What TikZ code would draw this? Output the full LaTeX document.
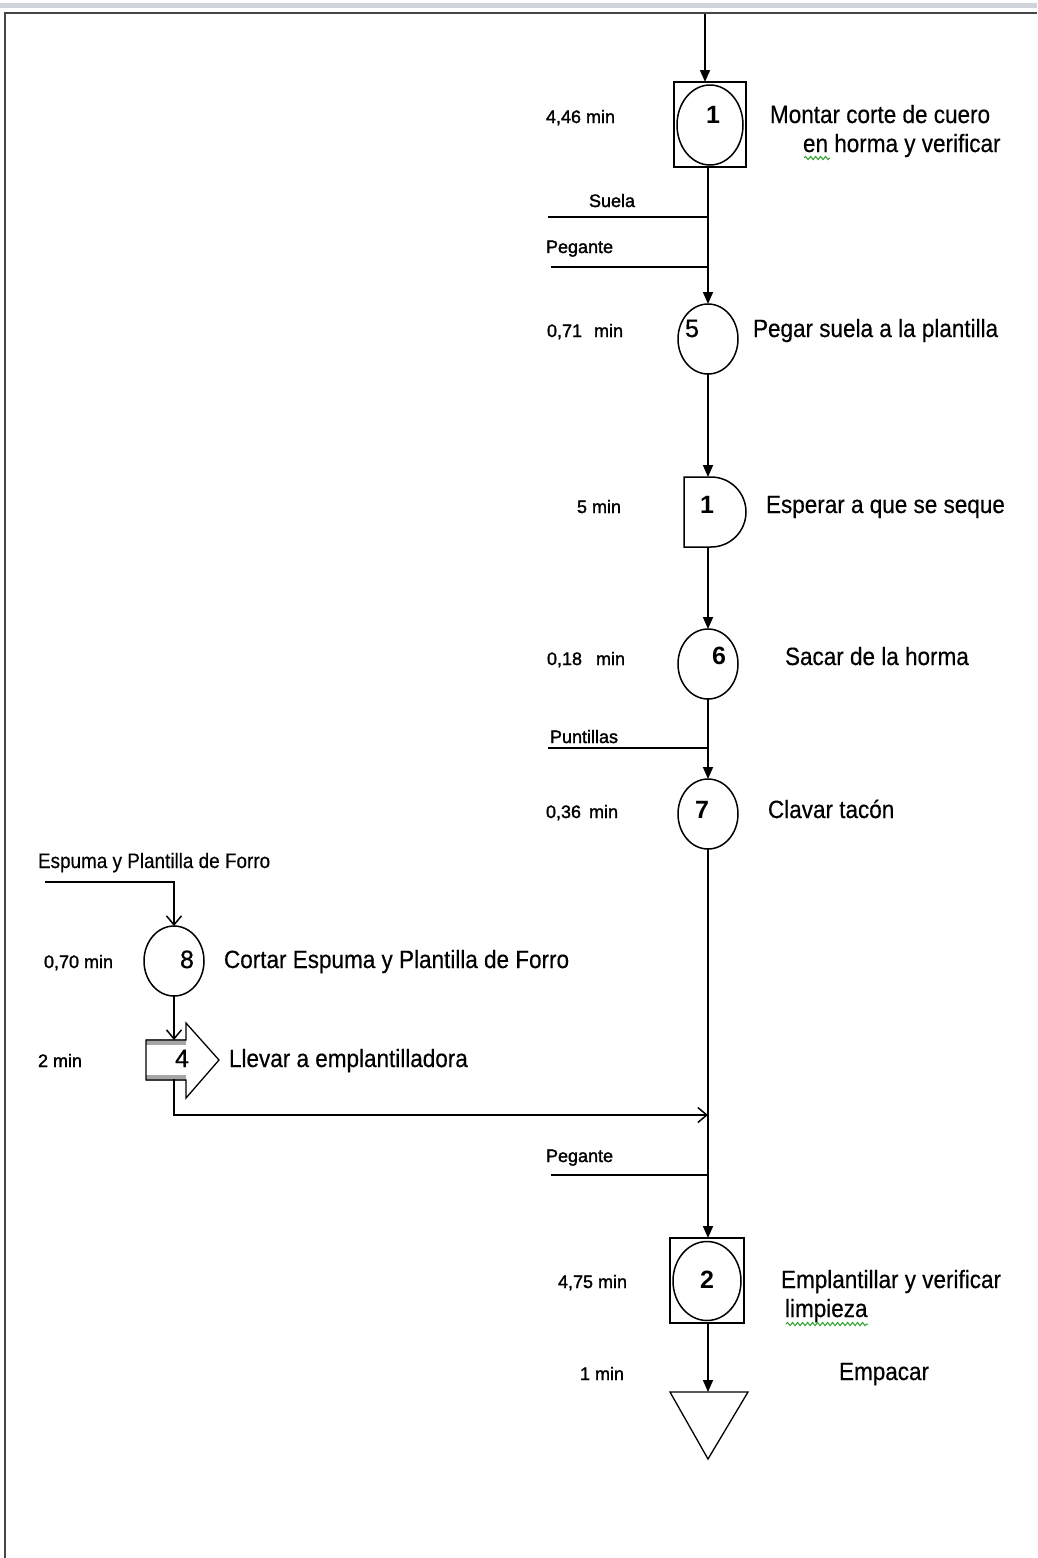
\documentclass[tikz,border=0pt]{standalone}
\usepackage{fontspec}
\setmainfont{Liberation Sans}
\newfontfamily\labfont[FakeStretch=0.9,FakeBold=0.4]{Liberation Sans}
\newfontfamily\smallfont[FakeBold=1.6]{Liberation Sans}
\newfontfamily\numfont[FakeBold=0.8]{Liberation Sans}
\usetikzlibrary{arrows.meta,shapes.geometric,decorations.pathmorphing}
\definecolor{bandgray}{RGB}{208,212,218}
\definecolor{framegray}{RGB}{70,70,70}
\definecolor{spellgreen}{RGB}{40,160,40}
\tikzset{
  every node/.style={inner sep=0pt, outer sep=0pt},
  lab/.style={font=\fontsize{25}{30}\labfont, anchor=base west},
  tm/.style={font=\fontsize{18}{21}\smallfont, anchor=base west},
  numb/.style={font=\fontsize{25}{30}\selectfont\bfseries, anchor=base},
  numr/.style={font=\fontsize{25}{30}\numfont, anchor=base},
  op/.style={ellipse, draw, line width=1.5pt, minimum width=60pt, minimum height=70pt},
  insp/.style={rectangle, draw, line width=1.5pt},
  ln/.style={line width=1.7pt},
  flow/.style={line width=1.7pt, -{Triangle[length=12pt,width=10pt]}},
  openflow/.style={line width=1.7pt, -{Straight Barb[length=9pt,width=15pt,line width=1.5pt]}},
  spell/.style={spellgreen, line width=1pt, decorate, decoration={snake, amplitude=1.6pt, segment length=5pt}},
}
\begin{document}
\begin{tikzpicture}[x=1pt,y=-1pt]
\useasboundingbox (0,0) rectangle (1037,1558);
% window frame
\fill[bandgray] (0,3) rectangle (1037,8);
\draw[framegray, line width=2pt] (4,13) -- (1037,13);
\draw[framegray, line width=1.6pt] (5,13) -- (5,1558);

% ---------- main column ----------
\coordinate (top) at (705,14);
\node[insp, minimum width=72pt, minimum height=85pt] (b1) at (710,124.5) {};
\node[op, minimum width=66pt, minimum height=80pt] (o1) at (710,125) {};
\node[numb] (n1) at (713,123) {1};
\node[tm] (t1) at (546,123) {4,46 min};
\node[lab] (l1a) at (770,123) {Montar corte de cuero};
\node[lab] (l1b) at (803,152) {en horma y verificar};
\draw[spell] (804,158) -- (830,158);
\draw[flow] (top) -- (top |- b1.north);

\node[op] (o5) at (708,339) {};
\node[numr] (n5) at (692,337) {5};
\node[tm] (t5) at (547,337) {0,71\hspace{12pt}min};
\node[lab] (l5) at (753,337) {Pegar suela a la plantilla};
\coordinate (suela) at (548,217);
\coordinate (peg1) at (551,267);
\node[tm] (ls) at (589,207) {Suela};
\node[tm] (lp1) at (546,253) {Pegante};
\draw[ln] (suela) -- (suela -| o5.north);
\draw[ln] (peg1) -- (peg1 -| o5.north);
\draw[flow] (b1.south -| o5.north) -- (o5.north);

% delay
\node[minimum width=62pt, minimum height=70pt] (d1) at (715,512) {};
\draw[line width=1.5pt] (d1.north west) -- (711,477) arc[start angle=90, end angle=-90, radius=35pt] -- (d1.south west) -- cycle;
\node[numb] (nd1) at (707,513) {1};
\node[tm] (td1) at (577,513) {5 min};
\node[lab] (ld1) at (766,513) {Esperar a que se seque};
\draw[flow] (o5.south) -- (o5.south |- d1.north);

\node[op] (o6) at (708,664) {};
\node[numb] (n6) at (719,664) {6};
\node[tm] (t6) at (547,665) {0,18\hspace{14pt}min};
\node[lab] (l6) at (785,665) {Sacar de la horma};
\draw[flow] (o6.north |- d1.south) -- (o6.north);

\node[op] (o7) at (708,814) {};
\node[numb] (n7) at (702,818) {7};
\node[tm] (t7) at (546,818) {0,36\hspace{8pt}min};
\node[lab] (l7) at (768,818) {Clavar tacón};
\coordinate (punt) at (548,748);
\node[tm] (lpu) at (550,743) {Puntillas};
\draw[ln] (punt) -- (punt -| o7.north);
\draw[flow] (o6.south) -- (o7.north);

% inspection-operation 2
\node[insp, minimum width=74pt, minimum height=85pt] (b2) at (707,1280.5) {};
\node[op, minimum width=68pt, minimum height=79pt] (o2) at (707,1281) {};
\node[numb] (n2) at (707,1288) {2};
\node[tm] (t2) at (558,1288) {4,75 min};
\node[lab] (l2a) at (781,1288) {Emplantillar y verificar};
\node[lab] (l2b) at (785,1317) {limpieza};
\draw[spell] (786,1324) -- (868,1324);
\coordinate (peg2) at (551,1175);
\node[tm] (lp2) at (546,1162) {Pegante};
\draw[ln] (peg2) -- (peg2 -| o7.south);
\draw[flow] (o7.south) -- (o7.south |- b2.north);

% storage triangle
\coordinate (ttop) at (708,1392);
\draw[line width=1.3pt] (670,1392) -- (748,1392) -- (708,1459) -- cycle;
\node[tm] (tt) at (580,1380) {1 min};
\node[lab] (lt) at (839,1380) {Empacar};
\draw[flow] (b2.south -| ttop) -- (ttop);

% ---------- left branch ----------
\coordinate (esp) at (45,882);
\node[font=\fontsize{21}{25}\labfont, anchor=base west] (le) at (38,868) {Espuma y Plantilla de Forro};
\node[op] (o8) at (174,961) {};
\node[numr] (n8) at (187,968) {8};
\node[tm] (t8) at (44,968) {0,70 min};
\node[lab] (l8) at (224,968) {Cortar Espuma y Plantilla de Forro};
\draw[openflow] (esp) -| (o8.north);

% transport arrow
\coordinate (trtop) at (174,1040);
\coordinate (trbot) at (174,1079);
\fill[gray!70] (146,1039) rectangle (186,1045);
\fill[gray!70] (146,1075) rectangle (186,1081);
\draw[line width=1.3pt] (186,1040) -- (146,1040) -- (146,1080) -- (186,1080)
   -- (186,1098) -- (219,1060) -- (186,1023) -- cycle;
\node[numr] (n4) at (182,1067) {4};
\node[tm] (t4) at (38,1067) {2 min};
\node[lab] (l4) at (229,1067) {Llevar a emplantilladora};
\draw[openflow] (o8.south) -- (trtop);
\coordinate (join) at (708,1115);
\draw[openflow] (trbot) |- (join);
\end{tikzpicture}
\end{document}
